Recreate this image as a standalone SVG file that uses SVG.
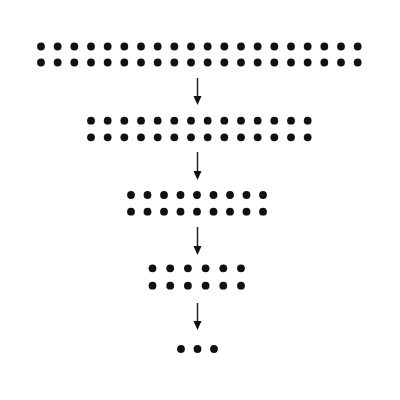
<svg xmlns="http://www.w3.org/2000/svg" width="400" height="400" viewBox="0 0 400 400">
<defs>
<style>
.dot{fill:#111}
.c{stroke:#222;stroke-width:1.5;fill:none}
.ah{fill:#111}
</style>
<circle id="d" class="dot" r="3.9"/>
</defs>
<rect width="400" height="400" fill="#fff"/>
<g id="row1">
<use href="#d" x="41" y="46.5"/><use href="#d" x="57.67" y="46.5"/><use href="#d" x="74.33" y="46.5"/><use href="#d" x="91" y="46.5"/><use href="#d" x="107.67" y="46.5"/><use href="#d" x="124.33" y="46.5"/><use href="#d" x="141" y="46.5"/><use href="#d" x="157.67" y="46.5"/><use href="#d" x="174.33" y="46.5"/><use href="#d" x="191" y="46.5"/><use href="#d" x="207.67" y="46.5"/><use href="#d" x="224.33" y="46.5"/><use href="#d" x="241" y="46.5"/><use href="#d" x="257.67" y="46.5"/><use href="#d" x="274.33" y="46.5"/><use href="#d" x="291" y="46.5"/><use href="#d" x="307.67" y="46.5"/><use href="#d" x="324.33" y="46.5"/><use href="#d" x="341" y="46.5"/><use href="#d" x="357.67" y="46.5"/>
<use href="#d" x="41" y="62.5"/><use href="#d" x="57.67" y="62.5"/><use href="#d" x="74.33" y="62.5"/><use href="#d" x="91" y="62.5"/><use href="#d" x="107.67" y="62.5"/><use href="#d" x="124.33" y="62.5"/><use href="#d" x="141" y="62.5"/><use href="#d" x="157.67" y="62.5"/><use href="#d" x="174.33" y="62.5"/><use href="#d" x="191" y="62.5"/><use href="#d" x="207.67" y="62.5"/><use href="#d" x="224.33" y="62.5"/><use href="#d" x="241" y="62.5"/><use href="#d" x="257.67" y="62.5"/><use href="#d" x="274.33" y="62.5"/><use href="#d" x="291" y="62.5"/><use href="#d" x="307.67" y="62.5"/><use href="#d" x="324.33" y="62.5"/><use href="#d" x="341" y="62.5"/><use href="#d" x="357.67" y="62.5"/>
</g>
<g id="row2">
<use href="#d" x="91" y="120.7"/><use href="#d" x="107.67" y="120.7"/><use href="#d" x="124.33" y="120.7"/><use href="#d" x="141" y="120.7"/><use href="#d" x="157.67" y="120.7"/><use href="#d" x="174.33" y="120.7"/><use href="#d" x="191" y="120.7"/><use href="#d" x="207.67" y="120.7"/><use href="#d" x="224.33" y="120.7"/><use href="#d" x="241" y="120.7"/><use href="#d" x="257.67" y="120.7"/><use href="#d" x="274.33" y="120.7"/><use href="#d" x="291" y="120.7"/><use href="#d" x="307.67" y="120.7"/>
<use href="#d" x="91" y="137.3"/><use href="#d" x="107.67" y="137.3"/><use href="#d" x="124.33" y="137.3"/><use href="#d" x="141" y="137.3"/><use href="#d" x="157.67" y="137.3"/><use href="#d" x="174.33" y="137.3"/><use href="#d" x="191" y="137.3"/><use href="#d" x="207.67" y="137.3"/><use href="#d" x="224.33" y="137.3"/><use href="#d" x="241" y="137.3"/><use href="#d" x="257.67" y="137.3"/><use href="#d" x="274.33" y="137.3"/><use href="#d" x="291" y="137.3"/><use href="#d" x="307.67" y="137.3"/>
</g>
<g id="row3">
<use href="#d" x="131" y="195"/><use href="#d" x="147.5" y="195"/><use href="#d" x="164" y="195"/><use href="#d" x="180.5" y="195"/><use href="#d" x="197" y="195"/><use href="#d" x="213.5" y="195"/><use href="#d" x="230" y="195"/><use href="#d" x="246.5" y="195"/><use href="#d" x="263" y="195"/>
<use href="#d" x="131" y="211.7"/><use href="#d" x="147.5" y="211.7"/><use href="#d" x="164" y="211.7"/><use href="#d" x="180.5" y="211.7"/><use href="#d" x="197" y="211.7"/><use href="#d" x="213.5" y="211.7"/><use href="#d" x="230" y="211.7"/><use href="#d" x="246.5" y="211.7"/><use href="#d" x="263" y="211.7"/>
</g>
<g id="row4">
<use href="#d" x="152.5" y="268.3"/><use href="#d" x="170.2" y="268.3"/><use href="#d" x="187.9" y="268.3"/><use href="#d" x="205.6" y="268.3"/><use href="#d" x="223.3" y="268.3"/><use href="#d" x="241" y="268.3"/>
<use href="#d" x="152.5" y="285.7"/><use href="#d" x="170.2" y="285.7"/><use href="#d" x="187.9" y="285.7"/><use href="#d" x="205.6" y="285.7"/><use href="#d" x="223.3" y="285.7"/><use href="#d" x="241" y="285.7"/>
</g>
<g id="row5">
<use href="#d" x="181" y="349"/><use href="#d" x="197.5" y="349"/><use href="#d" x="214" y="349"/>
</g>
<g id="connectors">
<line class="c" x1="197.5" y1="78" x2="197.5" y2="97"/>
<line class="c" x1="197.5" y1="152" x2="197.5" y2="172"/>
<line class="c" x1="197.5" y1="227" x2="197.5" y2="247"/>
<line class="c" x1="197.5" y1="303" x2="197.5" y2="322"/>
<path class="ah" d="M193.5,96 L201.5,96 L197.5,105 Z"/>
<path class="ah" d="M193.5,171 L201.5,171 L197.5,180 Z"/>
<path class="ah" d="M193.5,246 L201.5,246 L197.5,255 Z"/>
<path class="ah" d="M193.5,321 L201.5,321 L197.5,330 Z"/>
</g>
</svg>
